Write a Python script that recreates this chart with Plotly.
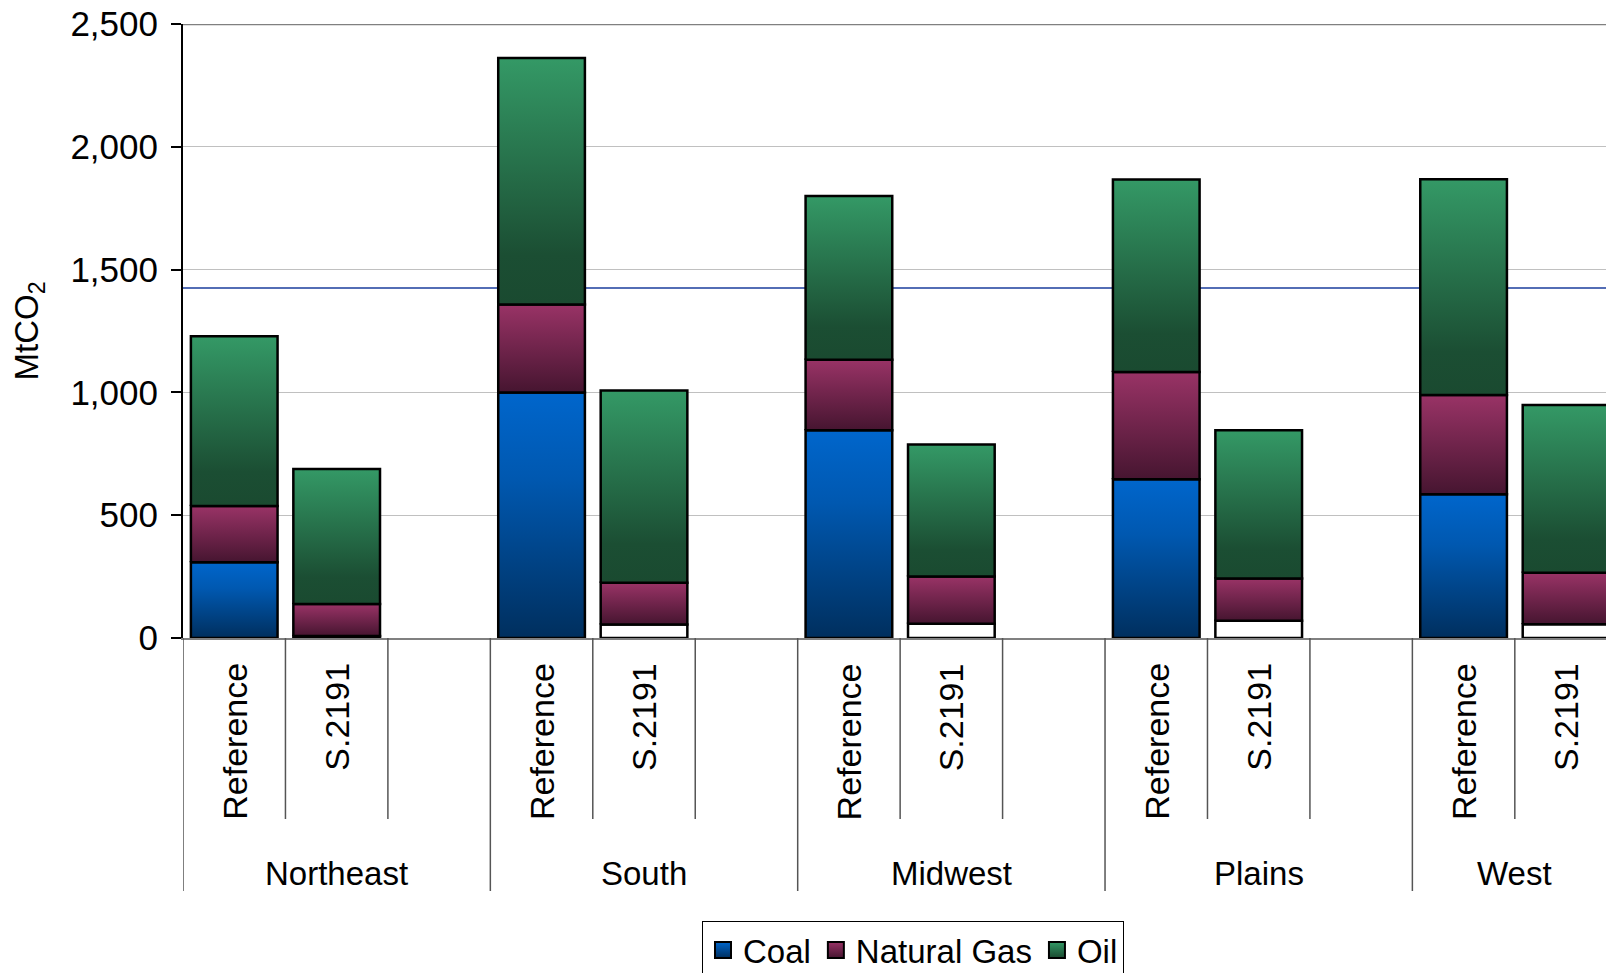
import plotly.graph_objects as go

# ---------------- data ----------------
regions = ["Northeast", "South", "Midwest", "Plains", "West"]
scenarios = ["Reference", "S.2191"]
fuels = ["Coal", "Natural Gas", "Oil"]

# MtCO2 per segment, order = regions
coal_reference = [308, 1000, 846, 646, 585]
gas_reference = [229, 358, 287, 437, 404]
oil_reference = [692, 1004, 667, 784, 879]

coal_s2191 = [8, 55, 58, 70, 56]
gas_s2191 = [130, 170, 192, 172, 210]
oil_s2191 = [550, 783, 538, 604, 683]

reference_line = 1425

y_ticks = [0, 500, 1000, 1500, 2000, 2500]

# ---------------- styling ----------------
FONT = "Liberation Sans, Arial, sans-serif"
FS = 33
values = {
    "Reference": {"Coal": coal_reference, "Natural Gas": gas_reference, "Oil": oil_reference},
    "S.2191": {"Coal": coal_s2191, "Natural Gas": gas_s2191, "Oil": oil_s2191},
}
gradients = {
    "Coal": [[0, "#002f5e"], [0.65, "#0058b0"], [1, "#0066cc"]],
    "Natural Gas": [[0, "#461530"], [1, "#993366"]],
    "Oil": [[0, "#1a4a30"], [0.2, "#1b4e33"], [1, "#349966"]],
}
legend_top = {"Coal": "#0066cc", "Natural Gas": "#993366", "Oil": "#339966"}
legend_bot = {"Coal": "#002f5e", "Natural Gas": "#461530", "Oil": "#1a4a30"}

n_slots_per_group = 3
bar_w = 0.846
x_max = 13.89
label_visible_end = 14.0

# pixel geometry helpers (paper coordinates below the plot)
plot_top_px, plot_bot_px = 24, 638
plot_h = plot_bot_px - plot_top_px


def paper_y(px):
    return (plot_bot_px - px) / plot_h


fig = go.Figure()

for g, region in enumerate(regions):
    for s, scen in enumerate(scenarios):
        xc = g * n_slots_per_group + s + 0.5
        x0, x1 = xc - bar_w / 2, xc + bar_w / 2
        base = 0
        for fuel in fuels:
            v = values[scen][fuel][g]
            y0, y1 = base, base + v
            kw = dict(
                x=[x0, x1, x1, x0, x0],
                y=[y0, y0, y1, y1, y0],
                mode="lines",
                fill="toself",
                line=dict(color="black", width=2.5),
                showlegend=False,
                hoverinfo="text",
                text=f"{region} {scen} {fuel}: {v}",
            )
            if fuel == "Coal" and scen == "S.2191":
                kw["fillcolor"] = "white"
            else:
                kw["fillgradient"] = dict(
                    type="vertical", colorscale=gradients[fuel], start=y0, stop=y1
                )
            fig.add_trace(go.Scatter(**kw))
            base = y1

# legend entries
for fuel in fuels:
    fig.add_trace(
        go.Scatter(
            x=[None],
            y=[None],
            mode="markers",
            name=fuel,
            marker=dict(
                symbol="square",
                size=18,
                color=legend_top[fuel],
                line=dict(color="black", width=2),
                gradient=dict(type="vertical", color=legend_bot[fuel]),
            ),
        )
    )

shapes = []
# reference horizontal line
shapes.append(
    dict(type="line", xref="paper", x0=0, x1=1, yref="y", y0=reference_line, y1=reference_line,
         line=dict(color="#1a3c9c", width=1.5), layer="between")
)
# top border
shapes.append(
    dict(type="line", xref="paper", x0=0, x1=1, yref="y", y0=2500, y1=2500,
         line=dict(color="#808080", width=2.5), layer="above")
)
# category dividers
n_slots = len(regions) * n_slots_per_group
for i in range(n_slots + 1):
    if i > x_max:
        continue
    if i % n_slots_per_group == 0:
        y_end = paper_y(891)
    else:
        y_end = paper_y(819)
    shapes.append(
        dict(type="line", xref="x", x0=i, x1=i, yref="paper", y0=0, y1=y_end,
             line=dict(color="#555555", width=1.5), layer="above")
    )

annotations = []
for g, region in enumerate(regions):
    for s, scen in enumerate(scenarios):
        annotations.append(
            dict(x=g * n_slots_per_group + s + 0.5, y=paper_y(661), xref="x", yref="paper",
                 text=scen, textangle=-90, showarrow=False, xanchor="center", yanchor="top",
                 font=dict(family=FONT, size=34, color="black"))
        )
    gx0 = g * n_slots_per_group
    gx1 = min(gx0 + n_slots_per_group, label_visible_end)
    annotations.append(
        dict(x=(gx0 + gx1) / 2, y=paper_y(873), xref="x", yref="paper", text=region,
             showarrow=False, xanchor="center", yanchor="middle",
             font=dict(family=FONT, size=FS, color="black"))
    )

fig.update_layout(
    width=1606,
    height=973,
    margin=dict(l=183, r=0, t=plot_top_px, b=973 - plot_bot_px, autoexpand=False),
    paper_bgcolor="white",
    plot_bgcolor="white",
    font=dict(family=FONT, size=FS, color="black"),
    shapes=shapes,
    annotations=annotations,
    showlegend=True,
    legend=dict(
        orientation="h",
        x=0.513,
        xanchor="center",
        y=paper_y(921),
        yanchor="top",
        bordercolor="black",
        borderwidth=1,
        bgcolor="white",
        font=dict(family=FONT, size=FS, color="black"),
        itemsizing="trace",
        traceorder="normal",
    ),
    xaxis=dict(
        range=[0, x_max],
        showticklabels=False,
        showgrid=False,
        zeroline=False,
        showline=True,
        linecolor="#808080",
        linewidth=2,
        ticks="",
        fixedrange=True,
    ),
    yaxis=dict(
        range=[0, 2500],
        tickvals=y_ticks,
        tickformat=",d",
        showline=True,
        linecolor="black",
        linewidth=2,
        ticks="outside",
        ticklen=10,
        tickwidth=1.5,
        tickcolor="black",
        showgrid=True,
        gridcolor="#c0c0c0",
        gridwidth=1,
        zeroline=False,
        ticklabelstandoff=6,
        tickfont=dict(family=FONT, size=35, color="black"),
        title=dict(text="MtCO<sub>2</sub>", standoff=22,
                   font=dict(family=FONT, size=FS, color="black")),
        fixedrange=True,
    ),
)

fig.write_html(
    "out.html",
    config={"displayModeBar": False},
    post_script="document.body.style.margin='0';document.body.style.overflow='hidden';",
)
